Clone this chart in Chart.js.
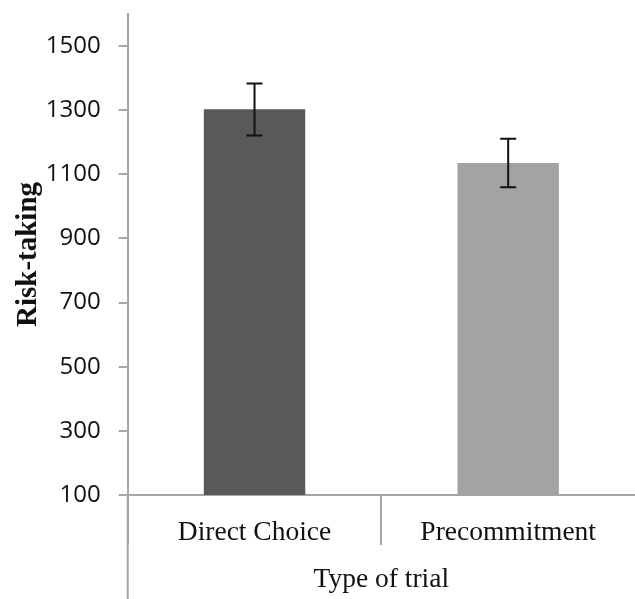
<!DOCTYPE html>
<html lang="en">
<head>
  <meta charset="UTF-8" />
  <title>Risk-taking by type of trial</title>
  <style>
    * { margin: 0; padding: 0; box-sizing: border-box; }
    body { background: #fff; }
    .wadah { width: 635px; height: 599px; position: relative; }
  </style>
</head>
<body>
  <div class="wadah">
    <canvas id="grafik"></canvas>
  </div>

  <script src="https://cdn.jsdelivr.net/npm/chart.js"></script>
  <script>
    // data
    const kategori = ["Direct Choice", "Precommitment"];
    const nilai = [1303, 1135];
    const galatAtas = [1383, 1211];
    const galatBawah = [1221, 1060];
    const labelSumbuY = [100, 300, 500, 700, 900, 1100, 1300, 1500];
    const warnaBatang = ["#595959", "#a3a3a3"];

    const warnaSumbu = "#a6a6a6";

    // error bar
    const errorBar = {
      id: "errorBar",
      afterDatasetsDraw(chart) {
        const ctx = chart.ctx;
        const y = chart.scales.y;
        const meta = chart.getDatasetMeta(0);
        ctx.save();
        ctx.strokeStyle = "#111";
        ctx.lineWidth = 2;
        meta.data.forEach((bar, i) => {
          const yAtas = y.getPixelForValue(galatAtas[i]);
          const yBawah = y.getPixelForValue(galatBawah[i]);
          ctx.beginPath();
          ctx.moveTo(bar.x, yAtas);
          ctx.lineTo(bar.x, yBawah);
          ctx.moveTo(bar.x - 8, yAtas);
          ctx.lineTo(bar.x + 8, yAtas);
          ctx.moveTo(bar.x - 8, yBawah);
          ctx.lineTo(bar.x + 8, yBawah);
          ctx.stroke();
        });
        ctx.restore();
      }
    };

    // garis sumbu y diteruskan sampai bawah
    const sumbuPanjang = {
      id: "sumbuPanjang",
      afterDraw(chart) {
        const ctx = chart.ctx;
        const x = chart.scales.x.left;
        ctx.save();
        ctx.strokeStyle = warnaSumbu;
        ctx.lineWidth = 2;
        ctx.beginPath();
        ctx.moveTo(x, chart.chartArea.bottom);
        ctx.lineTo(x, chart.height);
        ctx.stroke();
        ctx.restore();
      }
    };

    new Chart(document.getElementById("grafik"), {
      type: "bar",
      data: {
        labels: kategori,
        datasets: [{
          data: nilai,
          backgroundColor: warnaBatang,
          barPercentage: 0.4,
          categoryPercentage: 1
        }]
      },
      options: {
        responsive: true,
        maintainAspectRatio: false,
        animation: false,
        layout: { padding: { top: 0, right: 0, left: 11, bottom: 0 } },
        plugins: { legend: { display: false }, tooltip: { enabled: false } },
        scales: {
          x: {
            grid: {
              offset: true,
              drawOnChartArea: false,
              tickLength: 50,
              color: c => c.type === "tick" ? warnaSumbu : "rgba(0,0,0,0)",
              lineWidth: 2
            },
            border: { color: warnaSumbu, width: 2 },
            ticks: {
              color: "#111",
              padding: -29,
              font: { family: "Liberation Serif", size: 27.5 }
            },
            title: {
              display: true,
              text: "Type of trial",
              color: "#111",
              padding: { top: 43, bottom: 3 },
              font: { family: "Liberation Serif", size: 27.5 }
            }
          },
          y: {
            min: 100,
            max: 1600,
            afterBuildTicks(scale) {
              scale.ticks = labelSumbuY.map(v => ({ value: v }));
            },
            afterFit(scale) {
              // sumbu naik di atas label 1500
              scale.paddingTop = 14;
            },
            grid: {
              drawOnChartArea: false,
              tickLength: 9,
              color: warnaSumbu,
              lineWidth: 2
            },
            border: { color: warnaSumbu, width: 2 },
            ticks: {
              color: "#111",
              padding: 18,
              font: { family: "Open Sans", size: 24 },
              callback: v => String(v)
            },
            title: {
              display: true,
              text: "Risk-taking",
              color: "#111",
              padding: { top: 0, bottom: -18 },
              font: { family: "Liberation Serif", size: 29, weight: "bold" }
            }
          }
        }
      },
      plugins: [errorBar, sumbuPanjang]
    });
  </script>
</body>
</html>
